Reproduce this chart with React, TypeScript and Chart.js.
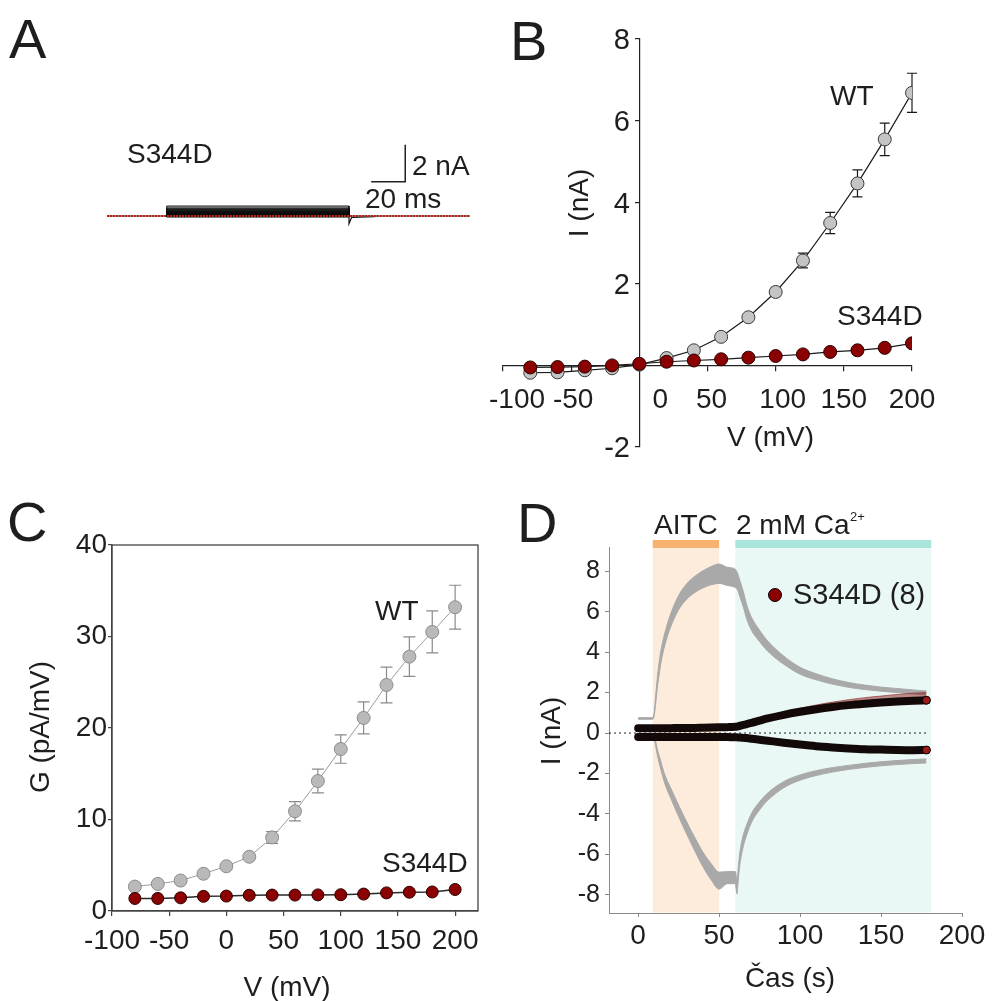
import React, { useEffect, useRef } from "react";
import { Chart, registerables } from "chart.js";

Chart.register(...registerables);

const FONT = "'Liberation Sans', Arial, Helvetica, sans-serif";
const INK = "#1e1e1e";

// ---------------- data: panels B & C (I-V and G-V) ----------------
const voltages = [-80, -60, -40, -20, 0, 20, 40, 60, 80, 100, 120, 140, 160, 180, 200];
const ivWT = [-0.18, -0.17, -0.12, -0.07, 0.02, 0.18, 0.37, 0.7, 1.18, 1.8, 2.57, 3.49, 4.46, 5.54, 6.68];
const ivWTErr = [0, 0, 0, 0, 0, 0, 0, 0, 0.05, 0.1, 0.18, 0.26, 0.33, 0.4, 0.48];
const ivS344D = [-0.05, -0.04, -0.03, 0.0, 0.04, 0.09, 0.12, 0.15, 0.19, 0.23, 0.27, 0.33, 0.37, 0.43, 0.54];
const bTicksX = [-100, -50, 0, 50, 100, 150, 200];
const bTicksY = [-2, 2, 4, 6, 8];

const gWT = [2.67, 2.96, 3.33, 4.07, 4.89, 5.93, 8.04, 10.9, 14.2, 17.7, 21.1, 24.7, 27.8, 30.5, 33.2];
const gWTErr = [0, 0, 0, 0, 0, 0, 0.65, 1.05, 1.3, 1.55, 1.75, 1.95, 2.15, 2.3, 2.4];
const gS344D = [1.37, 1.37, 1.44, 1.6, 1.63, 1.72, 1.74, 1.74, 1.76, 1.78, 1.85, 1.98, 2.05, 2.08, 2.35];
const cTicksX = [-100, -50, 0, 50, 100, 150, 200];
const cTicksY = [0, 10, 20, 30, 40];

// ---------------- data: panel A (current traces) ----------------
const stepTimesMs = [0, 35, 142, 213]; // trace start, step on, step off, trace end
const tailTrace = [
  { t: 142, i: 0 }, { t: 142, i: -0.42 }, { t: 143.5, i: -0.08 }, { t: 157, i: -0.04 }, { t: 158, i: 0 },
];
const scaleBar = { t: 175, i: 1.85, ms: 20, nA: 2 };

// ---------------- data: panel D (time course) ----------------
const dTimes = [0, 5, 9, 10, 11, 12, 13, 14, 15, 17, 20, 25, 30, 35, 40, 45, 50, 55, 60, 61, 62, 63, 65, 67, 70, 75, 80, 90, 100, 110, 120, 130, 140, 150, 160, 170, 178];
const wtUp = [0.72, 0.72, 0.72, 1.0, 1.8, 2.6, 3.2, 3.75, 4.15, 4.8, 5.55, 6.45, 7.0, 7.35, 7.6, 7.78, 7.88, 7.75, 7.65, 7.55, 7.35, 7.1, 6.6, 6.0, 5.4, 4.8, 4.3, 3.6, 3.08, 2.78, 2.55, 2.38, 2.26, 2.17, 2.1, 2.03, 1.98];
const wtUpErr = [0.04, 0.04, 0.04, 0.1, 0.2, 0.25, 0.3, 0.3, 0.3, 0.3, 0.32, 0.35, 0.38, 0.4, 0.42, 0.45, 0.48, 0.45, 0.45, 0.42, 0.4, 0.4, 0.38, 0.35, 0.32, 0.28, 0.25, 0.2, 0.17, 0.15, 0.13, 0.12, 0.11, 0.1, 0.1, 0.1, 0.1];
const wtLo = [-0.12, -0.12, -0.12, -0.25, -0.6, -1.0, -1.3, -1.6, -1.9, -2.4, -2.95, -3.85, -4.7, -5.5, -6.25, -6.85, -7.3, -7.15, -7.15, -7.6, -6.8, -6.1, -5.3, -4.8, -4.2, -3.6, -3.15, -2.55, -2.2, -1.98, -1.82, -1.7, -1.6, -1.52, -1.46, -1.41, -1.38];
const wtLoErr = [0.04, 0.04, 0.04, 0.08, 0.12, 0.15, 0.18, 0.2, 0.2, 0.22, 0.25, 0.28, 0.3, 0.33, 0.36, 0.4, 0.42, 0.3, 0.3, 0.35, 0.3, 0.3, 0.28, 0.25, 0.22, 0.2, 0.18, 0.15, 0.13, 0.12, 0.11, 0.1, 0.1, 0.1, 0.1, 0.1, 0.1];
const sUp = [0.24, 0.24, 0.24, 0.24, 0.24, 0.24, 0.24, 0.24, 0.24, 0.24, 0.24, 0.25, 0.25, 0.25, 0.26, 0.27, 0.28, 0.29, 0.31, 0.32, 0.34, 0.36, 0.4, 0.44, 0.5, 0.61, 0.72, 0.9, 1.05, 1.18, 1.29, 1.38, 1.45, 1.51, 1.56, 1.6, 1.62];
const sUpErr = [0.05, 0.05, 0.05, 0.05, 0.05, 0.05, 0.05, 0.05, 0.05, 0.05, 0.05, 0.05, 0.05, 0.05, 0.05, 0.05, 0.05, 0.05, 0.06, 0.06, 0.06, 0.07, 0.07, 0.08, 0.09, 0.1, 0.12, 0.15, 0.18, 0.21, 0.24, 0.27, 0.3, 0.32, 0.35, 0.37, 0.38];
const sLo = [-0.2, -0.2, -0.2, -0.2, -0.2, -0.2, -0.2, -0.2, -0.2, -0.2, -0.2, -0.2, -0.2, -0.2, -0.2, -0.2, -0.2, -0.2, -0.21, -0.21, -0.22, -0.22, -0.24, -0.25, -0.28, -0.33, -0.38, -0.48, -0.57, -0.65, -0.71, -0.76, -0.8, -0.82, -0.84, -0.85, -0.84];
const dPeriods = [
  { from: 9, to: 50, light: "#FDEBDC", bar: "#F6B26E" },
  { from: 60, to: 181, light: "#E9F8F5", bar: "#A8E5DA" },
];
const dTicksX = [0, 50, 100, 150, 200];
const dTicksY = [-8, -6, -4, -2, 0, 2, 4, 6, 8];
const zeroLineSpan = [-18, 178];

// ---------------- helpers ----------------
type TextItem = { t: string; x: number; y: number; size: number; align?: CanvasTextAlign; rot?: boolean; color?: string };
type ErrSpec = { ds: number; vals: number[]; errs: number[]; color: string; cap: number; width: number };
type Decor = {
  ox: number; oy: number;
  texts?: TextItem[];
  errors?: ErrSpec[];
  frame?: { color: string; width: number };
  periods?: typeof dPeriods;
  xLabels?: { values: number[]; offsets: number[]; baseline: number; size: number };
  yLabels?: { values: number[]; right: number; size: number };
  dot?: { x: number; y: number; r: number; fill: string; stroke: string };
};

function drawText(ctx: CanvasRenderingContext2D, it: TextItem, ox: number, oy: number) {
  ctx.save();
  ctx.font = `${it.size}px ${FONT}`;
  ctx.fillStyle = it.color || INK;
  ctx.textBaseline = "alphabetic";
  ctx.textAlign = it.align || "left";
  if (it.rot) {
    ctx.translate(it.x - ox, it.y - oy);
    ctx.rotate(-Math.PI / 2);
    ctx.fillText(it.t, 0, 0);
  } else {
    ctx.fillText(it.t, it.x - ox, it.y - oy);
  }
  ctx.restore();
}

function makeDecor(spec: Decor) {
  return {
    id: "decor",
    beforeDraw(chart: any) {
      if (!spec.periods) return;
      const { ctx, chartArea, scales } = chart;
      ctx.save();
      for (const p of spec.periods) {
        const x0 = scales.x.getPixelForValue(p.from);
        const x1 = scales.x.getPixelForValue(p.to);
        ctx.fillStyle = p.light;
        ctx.fillRect(x0, chartArea.top + 1, x1 - x0, chartArea.bottom - chartArea.top - 1.5);
        ctx.fillStyle = p.bar;
        ctx.fillRect(x0, chartArea.top - 7, x1 - x0, 8);
      }
      ctx.restore();
    },
    beforeDatasetsDraw(chart: any) {
      if (!spec.errors) return;
      const { ctx, scales } = chart;
      ctx.save();
      for (const e of spec.errors) {
        const meta = chart.getDatasetMeta(e.ds);
        ctx.strokeStyle = e.color;
        ctx.lineWidth = e.width;
        meta.data.forEach((pt: any, i: number) => {
          const err = e.errs[i];
          if (!err) return;
          const yTop = scales.y.getPixelForValue(e.vals[i] + err);
          const yBot = scales.y.getPixelForValue(e.vals[i] - err);
          ctx.beginPath();
          ctx.moveTo(pt.x, yTop); ctx.lineTo(pt.x, yBot);
          ctx.moveTo(pt.x - e.cap, yTop); ctx.lineTo(pt.x + e.cap, yTop);
          ctx.moveTo(pt.x - e.cap, yBot); ctx.lineTo(pt.x + e.cap, yBot);
          ctx.stroke();
        });
      }
      ctx.restore();
    },
    afterDraw(chart: any) {
      const { ctx, chartArea, scales } = chart;
      if (spec.frame) {
        ctx.save();
        ctx.strokeStyle = spec.frame.color;
        ctx.lineWidth = spec.frame.width;
        ctx.strokeRect(chartArea.left, chartArea.top, chartArea.right - chartArea.left, chartArea.bottom - chartArea.top);
        ctx.restore();
      }
      if (spec.xLabels) {
        const xl = spec.xLabels;
        xl.values.forEach((v, i) => {
          drawText(ctx, { t: String(v), x: scales.x.getPixelForValue(v) + xl.offsets[i] + spec.ox, y: xl.baseline, size: xl.size, align: "center" }, spec.ox, spec.oy);
        });
      }
      if (spec.yLabels) {
        const yl = spec.yLabels;
        yl.values.forEach((v) => {
          const py = scales.y.getPixelForValue(v) + spec.oy + yl.size * 0.36;
          drawText(ctx, { t: String(v), x: yl.right, y: py, size: yl.size, align: "right" }, spec.ox, spec.oy);
        });
      }
      if (spec.dot) {
        const d = spec.dot;
        ctx.save();
        ctx.beginPath();
        ctx.arc(d.x - spec.ox, d.y - spec.oy, d.r, 0, Math.PI * 2);
        ctx.fillStyle = d.fill;
        ctx.fill();
        ctx.lineWidth = 1;
        ctx.strokeStyle = d.stroke;
        ctx.stroke();
        ctx.restore();
      }
      (spec.texts || []).forEach((t) => drawText(ctx, t, spec.ox, spec.oy));
    },
  };
}

const setTicks = (vals: number[]) => (s: any) => {
  s.ticks = vals.map((v) => ({ value: v }));
};
const xy = (xs: number[], ys: number[]) => xs.map((x, i) => ({ x, y: ys[i] }));
const shift = (a: number[], b: number[], s: number) => a.map((v, i) => v + s * b[i]);

// ---------------- panel A ----------------
function buildA(): any {
  const [t0, tOn, tOff, tEnd] = stepTimesMs;
  const traces = ivS344D.map((a) => ({
    data: [{ x: tOn, y: 0 }, { x: tOn, y: a }, { x: tOff, y: a }, { x: tOff, y: 0 }],
    borderColor: "#0c0c0c", borderWidth: 0.9, pointRadius: 0,
    fill: "origin", backgroundColor: "rgba(0,0,0,0.32)", order: 4,
  }));
  return {
    type: "line",
    data: {
      datasets: [
        { data: [{ x: t0, y: 0 }, { x: tEnd, y: 0 }], borderColor: "#b3261e", borderWidth: 2, borderDash: [2, 1], pointRadius: 0, order: 0 },
        { data: [{ x: scaleBar.t - scaleBar.ms, y: scaleBar.i }, { x: scaleBar.t, y: scaleBar.i }, { x: scaleBar.t, y: scaleBar.i + scaleBar.nA }], borderColor: "#222", borderWidth: 1.5, pointRadius: 0, order: 0 },
        { data: tailTrace.map((p) => ({ x: p.t, y: p.i })), borderColor: "#111", borderWidth: 1.2, pointRadius: 0, order: 2 },
        { data: [{ x: t0, y: 0 }, { x: tEnd, y: 0 }], borderColor: "#3a1010", borderWidth: 1, pointRadius: 0, order: 3 },
        ...traces,
      ],
    },
    options: {
      animation: false, responsive: false, maintainAspectRatio: false,
      events: [],
      layout: { padding: { left: 107, right: 10, top: 123.5, bottom: 15.5 }, autoPadding: false },
      scales: {
        x: { type: "linear", min: 0, max: 213, display: false },
        y: { type: "linear", min: -1, max: 5, display: false },
      },
      plugins: { legend: { display: false }, tooltip: { enabled: false } },
      elements: { line: { tension: 0 } },
    },
    plugins: [makeDecor({
      ox: 0, oy: 0,
      texts: [
        { t: "A", x: 9, y: 58, size: 56 },
        { t: "S344D", x: 127, y: 163, size: 28 },
        { t: "2 nA", x: 412, y: 175, size: 28 },
        { t: "20 ms", x: 365, y: 208, size: 28 },
      ],
    })],
  };
}

// ---------------- panel B ----------------
function buildB(): any {
  const axisCol = "#222";
  return {
    type: "line",
    data: {
      datasets: [
        { label: "S344D", data: xy(voltages, ivS344D), borderColor: "#1a1a1a", borderWidth: 1.2, pointRadius: 6.5, pointBackgroundColor: "#8b0000", pointBorderColor: "#2a0000", pointBorderWidth: 1, order: 0 },
        { label: "WT", data: xy(voltages, ivWT), borderColor: "#1a1a1a", borderWidth: 1.2, pointRadius: 6.5, pointBackgroundColor: "#c4c4c4", pointBorderColor: "#3a3a3a", pointBorderWidth: 1, order: 1 },
      ],
    },
    options: {
      animation: false, responsive: false, maintainAspectRatio: false, events: [],
      layout: { padding: { left: 23, right: 83, top: 39, bottom: 23 }, autoPadding: false },
      scales: {
        x: {
          type: "linear", min: -100, max: 200, position: { y: 0 },
          afterBuildTicks: setTicks(bTicksX),
          ticks: { display: false },
          grid: { display: true, drawOnChartArea: false, drawTicks: true, tickLength: 5, color: axisCol, lineWidth: 1.2 },
          border: { display: true, color: axisCol, width: 1.2 },
        },
        y: {
          type: "linear", min: -2, max: 8, position: { x: 0 },
          afterBuildTicks: setTicks(bTicksY),
          ticks: { display: false },
          grid: { display: true, drawOnChartArea: false, drawTicks: true, tickLength: 4, color: axisCol, lineWidth: 1.2 },
          border: { display: true, color: axisCol, width: 1.2 },
        },
      },
      plugins: { legend: { display: false }, tooltip: { enabled: false } },
    },
    plugins: [makeDecor({
      ox: 480, oy: 0,
      errors: [{ ds: 1, vals: ivWT, errs: ivWTErr, color: "#1a1a1a", cap: 5, width: 1.2 }],
      xLabels: { values: bTicksX, offsets: [14, 2, 21, 4, 7, 0, 0], baseline: 408, size: 28 },
      yLabels: { values: bTicksY, right: 630, size: 29 },
      texts: [
        { t: "B", x: 510, y: 60, size: 56 },
        { t: "WT", x: 830, y: 105, size: 28 },
        { t: "S344D", x: 837, y: 325, size: 28 },
        { t: "I (nA)", x: 588, y: 203, size: 28, rot: true, align: "center" },
        { t: "V (mV)", x: 727, y: 446, size: 28 },
      ],
    })],
  };
}

// ---------------- panel C ----------------
function buildC(): any {
  const axisCol = "#444";
  return {
    type: "line",
    data: {
      datasets: [
        { label: "S344D", data: xy(voltages, gS344D), borderColor: "#2a2a2a", borderWidth: 1.5, pointRadius: 6, pointBackgroundColor: "#8b0000", pointBorderColor: "#2a0000", pointBorderWidth: 1, order: 0 },
        { label: "WT", data: xy(voltages, gWT), borderColor: "#9c9c9c", borderWidth: 1, pointRadius: 6.5, pointBackgroundColor: "#b9b9b9", pointBorderColor: "#8c8c8c", pointBorderWidth: 1, order: 1 },
      ],
    },
    options: {
      animation: false, responsive: false, maintainAspectRatio: false, events: [],
      layout: { padding: { left: 0, right: 22, top: 75, bottom: 0 }, autoPadding: false },
      scales: {
        x: {
          type: "linear", min: -100, max: 220, position: "bottom",
          afterBuildTicks: setTicks(cTicksX),
          afterFit: (s: any) => { s.height = 90; },
          ticks: { font: { family: FONT, size: 28 }, color: INK, padding: 8, maxRotation: 0, callback: (v: number) => String(v) },
          grid: { display: true, drawOnChartArea: false, drawTicks: true, tickLength: 5, color: axisCol, lineWidth: 1.2 },
          border: { display: true, color: axisCol, width: 1.3 },
        },
        y: {
          type: "linear", min: 0, max: 40, position: "left",
          afterBuildTicks: setTicks(cTicksY),
          afterFit: (s: any) => { s.width = 112; },
          ticks: { font: { family: FONT, size: 28 }, color: INK, padding: 1, callback: (v: number) => String(v) },
          grid: { display: true, drawOnChartArea: false, drawTicks: true, tickLength: 4, color: axisCol, lineWidth: 1.2 },
          border: { display: true, color: axisCol, width: 1.3 },
        },
      },
      plugins: { legend: { display: false }, tooltip: { enabled: false } },
    },
    plugins: [makeDecor({
      ox: 0, oy: 470,
      frame: { color: axisCol, width: 1.3 },
      errors: [{ ds: 1, vals: gWT, errs: gWTErr, color: "#8a8a8a", cap: 6, width: 1.2 }],
      texts: [
        { t: "C", x: 7, y: 541, size: 56 },
        { t: "WT", x: 375, y: 620, size: 28 },
        { t: "S344D", x: 382, y: 872, size: 28 },
        { t: "G (pA/mV)", x: 49, y: 727, size: 28, rot: true, align: "center" },
        { t: "V (mV)", x: 287, y: 996, size: 28, align: "center" },
      ],
    })],
  };
}

// ---------------- panel D ----------------
function buildD(): any {
  const axisCol = "#8a8a8a";
  const GRAY = "#a9a9a9";
  const last = dTimes.length - 1;
  const endMarker = dTimes.map((_, i) => (i === last ? 4 : 0));
  const smooth = { cubicInterpolationMode: "monotone", pointRadius: 0 };
  return {
    type: "line",
    data: {
      datasets: [
        { data: [{ x: zeroLineSpan[0], y: 0 }, { x: zeroLineSpan[1], y: 0 }], borderColor: "#222", borderWidth: 1, borderDash: [2, 3], pointRadius: 0, order: 20 },
        { ...smooth, data: xy(dTimes, shift(wtUp, wtUpErr, 1)), borderColor: GRAY, borderWidth: 1, fill: false, order: 10 },
        { ...smooth, data: xy(dTimes, shift(wtUp, wtUpErr, -1)), borderColor: GRAY, borderWidth: 1, fill: 1, backgroundColor: GRAY, order: 10 },
        { ...smooth, data: xy(dTimes, shift(wtLo, wtLoErr, 1)), borderColor: GRAY, borderWidth: 1, fill: false, order: 10 },
        { ...smooth, data: xy(dTimes, shift(wtLo, wtLoErr, -1)), borderColor: GRAY, borderWidth: 1, fill: 3, backgroundColor: GRAY, order: 10 },
        { ...smooth, data: xy(dTimes, shift(sUp, sUpErr, 1)), borderColor: "rgba(140,30,30,0.6)", borderWidth: 1, fill: 6, backgroundColor: "rgba(140,30,30,0.5)", order: 5 },
        { ...smooth, data: xy(dTimes, sUp), borderColor: "#140909", borderWidth: 8, borderCapStyle: "round", pointRadius: endMarker, pointBackgroundColor: "#9b1b1b", pointBorderColor: "#000", pointBorderWidth: 1, order: 1 },
        { ...smooth, data: xy(dTimes, sLo), borderColor: "#140909", borderWidth: 8, borderCapStyle: "round", pointRadius: endMarker, pointBackgroundColor: "#9b1b1b", pointBorderColor: "#000", pointBorderWidth: 1, order: 1 },
      ],
    },
    options: {
      animation: false, responsive: false, maintainAspectRatio: false, events: [],
      layout: { padding: { left: 0, right: 33, top: 77, bottom: 0 }, autoPadding: false },
      scales: {
        x: {
          type: "linear", min: -18, max: 200, position: "bottom",
          afterBuildTicks: setTicks(dTicksX),
          afterFit: (s: any) => { s.height = 88; },
          ticks: { font: { family: FONT, size: 28 }, color: INK, padding: 2, maxRotation: 0, callback: (v: number) => String(v) },
          grid: { display: true, drawOnChartArea: false, drawTicks: true, tickLength: 4, color: axisCol, lineWidth: 1 },
          border: { display: true, color: axisCol, width: 1 },
        },
        y: {
          type: "linear", min: -8.9, max: 9.2, position: "left",
          afterBuildTicks: setTicks(dTicksY),
          afterFit: (s: any) => { s.width = 109; },
          ticks: { font: { family: FONT, size: 25 }, color: INK, padding: 5, callback: (v: number) => String(v) },
          grid: { display: true, drawOnChartArea: false, drawTicks: true, tickLength: 4, color: axisCol, lineWidth: 1 },
          border: { display: true, color: axisCol, width: 1 },
        },
      },
      plugins: { legend: { display: false }, tooltip: { enabled: false } },
    },
    plugins: [makeDecor({
      ox: 500, oy: 470,
      periods: dPeriods,
      dot: { x: 775, y: 595, r: 6.5, fill: "#8b0000", stroke: "#000" },
      texts: [
        { t: "D", x: 517, y: 542, size: 56 },
        { t: "AITC", x: 654, y: 534, size: 28 },
        { t: "2 mM Ca", x: 736, y: 534, size: 28 },
        { t: "2+", x: 850, y: 521, size: 13 },
        { t: "S344D (8)", x: 793, y: 604, size: 29 },
        { t: "I (nA)", x: 560, y: 731, size: 28, rot: true, align: "center" },
        { t: "Čas (s)", x: 790, y: 987, size: 28, align: "center" },
      ],
    })],
  };
}

function ChartPanel({ left, top, width, height, build }: { left: number; top: number; width: number; height: number; build: () => any }) {
  const ref = useRef<HTMLCanvasElement>(null);
  useEffect(() => {
    const chart = new Chart(ref.current as HTMLCanvasElement, build());
    return () => chart.destroy();
  }, []);
  return (
    <canvas
      ref={ref}
      width={width}
      height={height}
      style={{ position: "absolute", left, top, width, height, display: "block" }}
    />
  );
}

export default function App() {
  return (
    <div style={{ position: "absolute", left: 0, top: 0, width: 995, height: 1001, background: "#fff", overflow: "hidden" }}>
      <ChartPanel left={0} top={0} width={480} height={250} build={buildA} />
      <ChartPanel left={480} top={0} width={515} height={470} build={buildB} />
      <ChartPanel left={0} top={470} width={500} height={531} build={buildC} />
      <ChartPanel left={500} top={470} width={495} height={531} build={buildD} />
    </div>
  );
}
